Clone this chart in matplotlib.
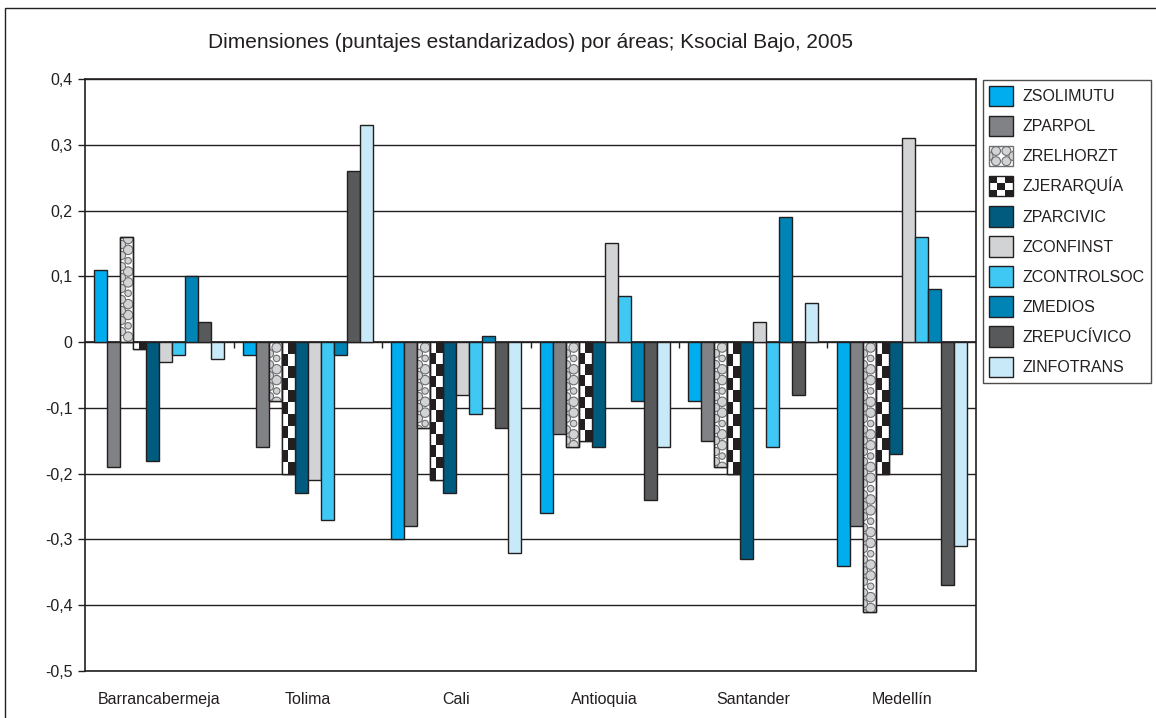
import numpy as np
import matplotlib.pyplot as plt
from matplotlib.patches import Rectangle, Circle
from matplotlib.colors import ListedColormap
from matplotlib.ticker import FuncFormatter

plt.rcParams['font.family'] = ['Liberation Sans', 'DejaVu Sans']

areas = ['Barrancabermeja', 'Tolima', 'Cali', 'Antioquia', 'Santander', 'Medellín']
series = ['ZSOLIMUTU', 'ZPARPOL', 'ZRELHORZT', 'ZJERARQUÍA', 'ZPARCIVIC',
          'ZCONFINST', 'ZCONTROLSOC', 'ZMEDIOS', 'ZREPUCÍVICO', 'ZINFOTRANS']

zsolimutu   = [0.11, -0.02, -0.30, -0.26, -0.09, -0.34]
zparpol     = [-0.19, -0.16, -0.28, -0.14, -0.15, -0.28]
zrelhorzt   = [0.16, -0.09, -0.13, -0.16, -0.19, -0.41]
zjerarquia  = [-0.01, -0.20, -0.21, -0.15, -0.20, -0.20]
zparcivic   = [-0.18, -0.23, -0.23, -0.16, -0.33, -0.17]
zconfinst   = [-0.03, -0.21, -0.08, 0.15, 0.03, 0.31]
zcontrolsoc = [-0.02, -0.27, -0.11, 0.07, -0.16, 0.16]
zmedios     = [0.10, -0.02, 0.01, -0.09, 0.19, 0.08]
zrepucivico = [0.03, 0.26, -0.13, -0.24, -0.08, -0.37]
zinfotrans  = [-0.025, 0.33, -0.32, -0.16, 0.06, -0.31]

values = [zsolimutu, zparpol, zrelhorzt, zjerarquia, zparcivic,
          zconfinst, zcontrolsoc, zmedios, zrepucivico, zinfotrans]
colors = ['#00AEEF', '#808285', '#FFFFFF', '#FFFFFF', '#005B7F',
          '#D1D3D4', '#40C8F4', '#0083B5', '#58595B', '#C7E9F8']

ink = '#231F20'
dot = '#D1D3D4'

fig = plt.figure(figsize=(11.56, 7.18), dpi=100)
ax = fig.add_axes([85 / 1156, 1 - 671 / 718, 891 / 1156, 592 / 718])

x = np.arange(len(areas))
w = 0.0873
handles = []


def circle_texture(b):
    # staggered gray circles inside one bar, clipped to it
    x0, bw, bh = b.get_x(), b.get_width(), b.get_height()
    step = 0.0165
    n = int(abs(bh) / step) + 2
    sgn = 1 if bh >= 0 else -1
    ys = sgn * (np.arange(n) * step + step / 2)
    sizes = np.where(np.arange(n) % 3 == 1, 22, 46)
    pts = [ax.scatter(np.full(n, x0 + 0.6 * bw), ys, s=sizes, c=dot, edgecolors='#6D6E71',
                      linewidths=0.8, zorder=2.5),
           ax.scatter(np.full(n, x0 + 0.02 * bw), ys + sgn * step / 2, s=34, c=dot,
                      edgecolors='#6D6E71', linewidths=0.8, zorder=2.5)]
    for p in pts:
        p.set_clip_path(b)


def checker_texture(b):
    x0, bw, bh = b.get_x(), b.get_width(), b.get_height()
    rows = max(1, int(round(abs(bh) / 0.0175)))
    img = np.indices((rows, 2)).sum(0) % 2
    im = ax.imshow(img, cmap=ListedColormap(['white', ink]), extent=(x0, x0 + bw, 0, bh),
                   origin='lower', aspect='auto', interpolation='nearest', zorder=2.5)
    im.set_clip_path(b)


class CircleIcon:
    pass


class CheckerIcon:
    pass


for i, (name, vals, col) in enumerate(zip(series, values, colors)):
    pos = x + (i - 4.5) * w
    bars = ax.bar(pos, vals, w, color=col, edgecolor=ink, linewidth=1, zorder=2)
    if name == 'ZRELHORZT':
        for b in bars:
            circle_texture(b)
        ax.bar(pos, vals, w, fill=False, edgecolor=ink, linewidth=1, zorder=3)
        handles.append(CircleIcon())
    elif name == 'ZJERARQUÍA':
        for b in bars:
            checker_texture(b)
        ax.bar(pos, vals, w, fill=False, edgecolor=ink, linewidth=1, zorder=3)
        handles.append(CheckerIcon())
    else:
        handles.append(Rectangle((0, 0), 1, 1, facecolor=col, edgecolor=ink, linewidth=1))


class CheckerHandler:
    def legend_artist(self, legend, orig_handle, fontsize, handlebox):
        x0, y0 = -handlebox.xdescent, -handlebox.ydescent
        hw, hh = handlebox.width, handlebox.height
        tr = handlebox.get_transform()
        for r in range(3):
            for c in range(3):
                fc = ink if (r + c) % 2 == 0 else 'white'
                handlebox.add_artist(Rectangle((x0 + c * hw / 3, y0 + r * hh / 3), hw / 3, hh / 3,
                                               facecolor=fc, edgecolor='none', transform=tr))
        border = Rectangle((x0, y0), hw, hh, fill=False, edgecolor=ink, linewidth=1, transform=tr)
        handlebox.add_artist(border)
        return border


class CircleHandler:
    def legend_artist(self, legend, orig_handle, fontsize, handlebox):
        x0, y0 = -handlebox.xdescent, -handlebox.ydescent
        hw, hh = handlebox.width, handlebox.height
        tr = handlebox.get_transform()
        bg = Rectangle((x0, y0), hw, hh, facecolor='white', edgecolor='none', transform=tr)
        handlebox.add_artist(bg)
        r = hh / 4.6
        for cx, cy in [(0.3, 0.25), (0.72, 0.25), (0.3, 0.75), (0.72, 0.75), (0.0, 0.5), (1.0, 0.5)]:
            c = Circle((x0 + cx * hw, y0 + cy * hh), r, facecolor=dot, edgecolor='#6D6E71',
                       linewidth=0.8, transform=tr)
            c.set_clip_path(bg)
            handlebox.add_artist(c)
        border = Rectangle((x0, y0), hw, hh, fill=False, edgecolor='#6D6E71', linewidth=1, transform=tr)
        handlebox.add_artist(border)
        return border


ax.set_xlim(-0.5, len(areas) - 0.5)
ax.set_ylim(-0.5, 0.4)
ax.set_yticks(np.arange(-0.5, 0.41, 0.1))
ax.yaxis.set_major_formatter(FuncFormatter(lambda v, p: f'{v:.1f}'.replace('.', ',').replace('-0,0', '0').replace('0,0', '0')))
ax.yaxis.grid(True, color=ink, linewidth=1)
ax.set_axisbelow(True)
ax.axhline(0, color=ink, linewidth=1.2, zorder=1.5)
ax.vlines(np.arange(1, len(areas)) - 0.5, -0.009, 0, color=ink, linewidth=1, zorder=1.5)

ax.set_xticks(x)
ax.set_xticklabels(areas)
ax.tick_params(axis='x', length=0, pad=15, labelsize=11.5, colors=ink)
ax.tick_params(axis='y', length=5, direction='out', width=1, pad=4, labelsize=11.5, colors=ink)
for s in ax.spines.values():
    s.set_color(ink)
    s.set_linewidth(1.2)

leg = fig.legend(handles, series, handler_map={CheckerIcon: CheckerHandler(), CircleIcon: CircleHandler()},
                 loc='upper left', bbox_to_anchor=(983 / 1156, 1 - 80 / 718),
                 fontsize=11.5, frameon=True, fancybox=False, edgecolor=ink,
                 handlelength=1.55, handleheight=1.6, labelspacing=0.6,
                 handletextpad=0.6, borderpad=0.35, borderaxespad=0)
leg.get_frame().set_linewidth(1)
for t in leg.get_texts():
    t.set_color(ink)

fig.text(530 / 1156, 1 - 42 / 718, 'Dimensiones (puntajes estandarizados) por áreas; Ksocial Bajo, 2005',
         ha='center', va='center', fontsize=15, color=ink)

fig.add_artist(Rectangle((5 / 1156, -0.05), 1.2, 1 - 8 / 718 + 0.05, transform=fig.transFigure,
                         fill=False, edgecolor=ink, linewidth=1))

fig.savefig('out.png', dpi=100)
